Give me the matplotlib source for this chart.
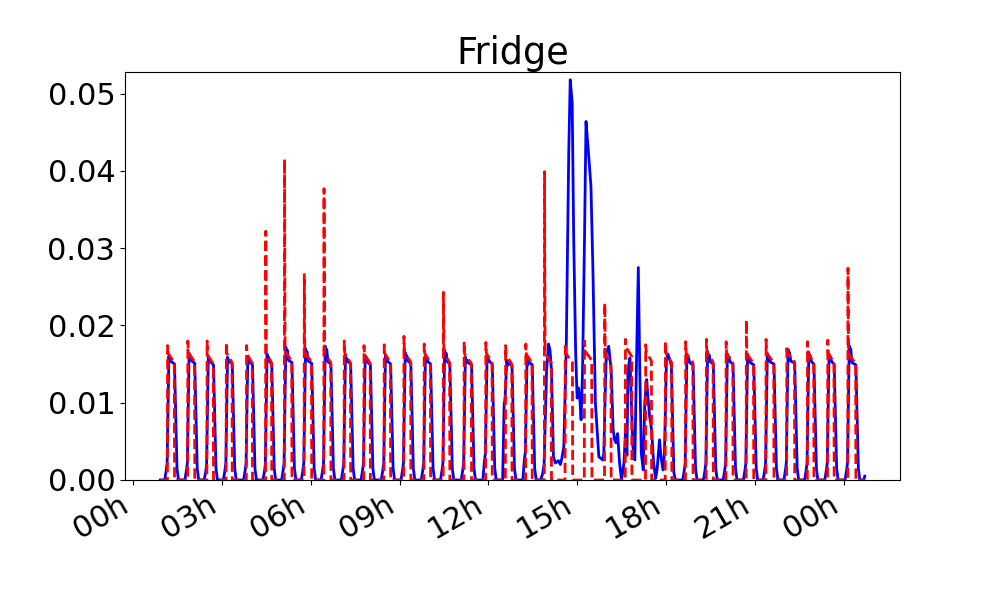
import numpy as np
import matplotlib
matplotlib.use('Agg')
import matplotlib.pyplot as plt
import matplotlib.dates as mdates

plt.rcParams['font.size'] = 22

day = np.datetime64('2015-01-01T00:00')
t_first, t_last = 55, 1483  # minutes after midnight covered by the data

# fridge cycles: switch-on minute, run length (min)
cycle_start = [70, 111, 150, 189, 230, 269, 307, 347, 387, 428, 468, 509,
               549, 590, 629, 671, 715, 755, 796, 834, 876, 915, 956, 998,
               1039, 1079, 1120, 1162, 1202, 1243, 1283, 1325, 1367, 1408, 1449]
cycle_len = [14, 14, 13, 12, 12, 12, 15, 15, 14, 13, 13, 13, 14, 13, 13, 15,
             13, 13, 13, 14, 15, 15, 13, 13, 12, 13, 15, 14, 14, 15, 16, 16,
             13, 13, 16]
true_peak = [0.0174, 0.0180, 0.0180, 0.0178, 0.0174, 0.0322, 0.0415, 0.0266,
             0.0377, 0.0180, 0.0174, 0.0175, 0.0186, 0.0176, 0.0243, 0.0179,
             0.0178, 0.0174, 0.0176, 0.0399, 0.0175, 0.0180, 0.0229, 0.0182,
             0.0175, 0.0179, 0.0179, 0.0182, 0.0179, 0.0207, 0.0182, 0.0174,
             0.0179, 0.0181, 0.0274]
true_level = [0.0152, 0.0153, 0.0150, 0.0152, 0.0151, 0.0152, 0.0154, 0.0153,
              0.0152, 0.0152, 0.0151, 0.0152, 0.0153, 0.0152, 0.0152, 0.0151,
              0.0152, 0.0150, 0.0151, 0.0152, 0.0152, 0.0155, 0.0150, 0.0160,
              0.0154, 0.0152, 0.0152, 0.0153, 0.0152, 0.0151, 0.0152, 0.0153,
              0.0152, 0.0152, 0.0151]

# disaggregated estimate for the regular cycles
pred_peak = [0.0160, 0.0164, 0.0160, 0.0159, 0.0158, 0.0163, 0.0172, 0.0170,
             0.0173, 0.0161, 0.0161, 0.0161, 0.0165, 0.0160, 0.0168, 0.0159,
             0.0160, 0.0155, 0.0156, 0.0176, 0.0518, 0.0464, 0.0173, 0.0158,
             0.0130, 0.0163, 0.0163, 0.0166, 0.0163, 0.0163, 0.0164, 0.0169,
             0.0165, 0.0163, 0.0174]
pred_level = [0.0150, 0.0151, 0.0149, 0.0150, 0.0149, 0.0150, 0.0152, 0.0151,
              0.0150, 0.0150, 0.0149, 0.0150, 0.0151, 0.0150, 0.0150, 0.0149,
              0.0150, 0.0148, 0.0149, 0.0150, 0.0150, 0.0150, 0.0150, 0.0150,
              0.0150, 0.0150, 0.0149, 0.0150, 0.0150, 0.0149, 0.0150, 0.0151,
              0.0150, 0.0150, 0.0149]
pred_pre = [0.0012, 0.0012, 0.0010, 0.0012, 0.0012, 0.0010, 0.0012, 0.0012,
            0.0012, 0.0012, 0.0012, 0.0012, 0.0012, 0.0012, 0.0012, 0.0012,
            0.0024, 0.0097, 0.0026, 0.0012, 0.0030, 0.0030, 0.0030, 0.0030,
            0.0030, 0.0030, 0.0012, 0.0012, 0.0012, 0.0012, 0.0012, 0.0012,
            0.0012, 0.0012, 0.0012]

# afternoon stretch where the estimate is messy, given point by point
irr_min = [826, 830, 833, 838, 842, 845, 848, 852, 856, 862, 866, 869, 873,
           878, 883, 886, 890, 893, 897, 900, 903, 906, 908, 911, 915, 918,
           922, 928, 932, 937, 944, 952, 954, 959, 964, 969, 973, 976, 979,
           982, 986, 990, 995, 998, 1001, 1003, 1007, 1010, 1013, 1017, 1020,
           1024, 1027, 1030, 1034, 1037, 1041, 1043, 1047, 1051, 1055, 1059,
           1062, 1067, 1070, 1074, 1077, 1081, 1084, 1088, 1091, 1096, 1099]
irr_val = [0.0, 0.0008, 0.0020, 0.0140, 0.0176, 0.0168, 0.0142, 0.0030,
           0.0022, 0.0025, 0.0020, 0.0028, 0.0043, 0.0173, 0.0424, 0.0518,
           0.0488, 0.0315, 0.0165, 0.0106, 0.0119, 0.0100, 0.0078, 0.0142,
           0.0315, 0.0464, 0.0432, 0.0380, 0.0272, 0.0100, 0.0030, 0.0026,
           0.0035, 0.0164, 0.0173, 0.0142, 0.0065, 0.0052, 0.0048, 0.0060,
           0.0022, 0.0, 0.0022, 0.0062, 0.0032, 0.0142, 0.0158, 0.0100,
           0.0043, 0.0026, 0.0142, 0.0275, 0.0142, 0.0035, 0.0013, 0.0100,
           0.0130, 0.0111, 0.0082, 0.0065, 0.0022, 0.0002, 0.0013, 0.0052,
           0.0030, 0.0013, 0.0035, 0.0155, 0.0163, 0.0155, 0.0148, 0.0010, 0.0]


def to_time(mins):
    return day + (np.asarray(mins) * 60).astype(int).astype('timedelta64[s]')


# ground truth: square pulses with an inrush spike at switch-on
true_t, true_v = [t_first], [0.0]
for t0, n, pk, lv in zip(cycle_start, cycle_len, true_peak, true_level):
    t1 = t0 + n
    true_t += [t0 - 0.5, t0, t0 + 1, t1 - 0.5, t1]
    true_v += [0.0, pk, lv + 0.0012, lv, 0.0]
true_t.append(t_last)
true_v.append(0.0)

# estimate: smoother pulses, messy part pasted in
pred_t, pred_v = [t_first], [0.0]
irr_done = False
for t0, n, pk, lv, pre in zip(cycle_start, cycle_len, pred_peak, pred_level, pred_pre):
    if irr_min[0] <= t0 <= irr_min[-1]:
        if not irr_done:
            pred_t += irr_min
            pred_v += irr_val
            irr_done = True
        continue
    t1 = t0 + n
    pred_t += [t0 - 6, t0 - 3, t0 - 1, t0 + 2.5, t0 + 4, t0 + 5.5, t0 + 8,
               t1, t1 + 5, t1 + 8]
    pred_v += [0.0, pre, pre + 0.001, pk, pk - 0.0007, pk - 0.0004,
               lv + 0.0003, lv, 0.0015, 0.0]
pred_t += [t_last - 2, t_last]
pred_v += [0.0, 0.0005]

fig, ax = plt.subplots(figsize=(10, 6), dpi=100)
ax.plot(to_time(pred_t), pred_v, 'b-', linewidth=2)
ax.plot(to_time(true_t), true_v, 'r--', linewidth=2)
ax.set_ylim(0, 0.0528)
ax.set_title('Fridge')
ax.xaxis.set_major_locator(mdates.HourLocator(byhour=range(0, 24, 3)))
ax.xaxis.set_major_formatter(mdates.DateFormatter('%Hh'))
fig.autofmt_xdate()

plt.savefig('out.png')
plt.close()
